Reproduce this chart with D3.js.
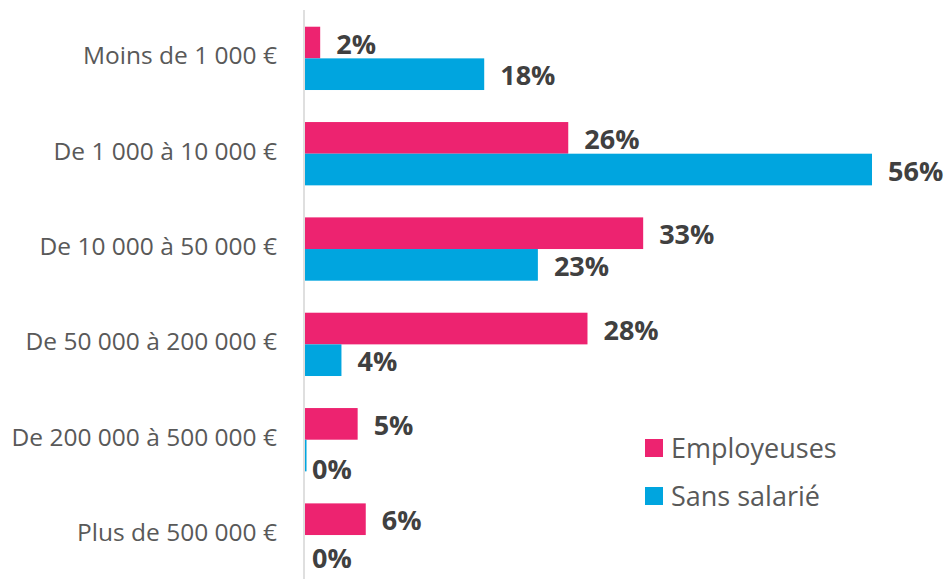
<!DOCTYPE html>
<html>
<head>
<meta charset="utf-8">
<script src="https://cdn.jsdelivr.net/npm/d3@7"></script>
<style>
  body { margin: 0; background: #fff; }
  text { font-family: "Open Sans", "Noto Sans", sans-serif; }
</style>
</head>
<body>
<div id="chart-area"></div>
<script>

var width = 947,
	height = 579;

// data
var categories = ["Moins de 1 000 €", "De 1 000 à 10 000 €", "De 10 000 à 50 000 €",
	"De 50 000 à 200 000 €", "De 200 000 à 500 000 €", "Plus de 500 000 €"];
var seriesNames = ["Employeuses", "Sans salarié"];
var employeuses = [1.5, 26, 33.4, 27.9, 5.2, 6.0];
var sansSalarie = [17.7, 56, 23, 3.6, 0.15, 0];
var colors = ["#ED2370", "#00A5DF"];

var svg = d3.select("#chart-area").append("svg")
	.attr("width", width)
	.attr("height", height);

var yScale = d3.scaleBand()
	.domain(categories)
	.range([10.7, 582.7])
	.paddingInner(0.336)
	.paddingOuter(0.168);

var ySub = d3.scaleBand()
	.domain(seriesNames)
	.range([0, yScale.bandwidth()]);

var xScale = d3.scaleLinear()
	.domain([0, 56])
	.range([305, 872]);

var rows = [];
categories.forEach(function(c, i){
	rows.push({cat: c, series: seriesNames[0], value: employeuses[i], color: colors[0]});
	rows.push({cat: c, series: seriesNames[1], value: sansSalarie[i], color: colors[1]});
});

svg.selectAll("rect.bar")
	.data(rows)
	.enter()
	.append("rect")
	.attr("class", "bar")
	.attr("x", xScale(0))
	.attr("y", function(d){ return yScale(d.cat) + ySub(d.series); })
	.attr("width", function(d){ return xScale(d.value) - xScale(0); })
	.attr("height", ySub.bandwidth())
	.attr("fill", function(d){ return d.color; });

// value labels (labels of empty bars sit a little lower, next to the axis)
svg.selectAll("text.value")
	.data(rows)
	.enter()
	.append("text")
	.attr("class", "value")
	.attr("x", function(d){
		if (Math.round(d.value) == 0) return xScale(0) + 7;
		return xScale(d.value) + 16;
	})
	.attr("y", function(d){
		var c = yScale(d.cat) + ySub(d.series) + ySub.bandwidth()/2 + 1.5;
		if (Math.round(d.value) == 0) return Math.min(c + 12, height - 21);
		return c;
	})
	.attr("dy", "0.36em")
	.attr("font-size", "27px")
	.attr("font-weight", "bold")
	.attr("fill", "#404040")
	.text(function(d){ return Math.round(d.value) + "%"; });

// category axis
svg.append("line")
	.attr("x1", 304).attr("x2", 304)
	.attr("y1", 10).attr("y2", height)
	.attr("stroke", "#d4d4d4")
	.attr("stroke-width", 1.5);

svg.selectAll("text.cat")
	.data(categories)
	.enter()
	.append("text")
	.attr("class", "cat")
	.attr("x", 277)
	.attr("y", function(d){ return yScale(d) + yScale.bandwidth()/2; })
	.attr("dy", "0.25em")
	.attr("text-anchor", "end")
	.attr("font-size", "24.5px")
	.attr("fill", "#595959")
	.text(function(d){ return d; });

// legend
var legend = svg.selectAll("g.legend")
	.data(seriesNames)
	.enter()
	.append("g")
	.attr("class", "legend")
	.attr("transform", function(d, i){ return "translate(645," + (448 + i*48) + ")"; });

legend.append("rect")
	.attr("x", 0).attr("y", -9)
	.attr("width", 18).attr("height", 18)
	.attr("fill", function(d, i){ return colors[i]; });

legend.append("text")
	.attr("x", 26)
	.attr("y", 0)
	.attr("dy", "0.36em")
	.attr("font-size", "27px")
	.attr("fill", "#595959")
	.text(function(d){ return d; });

</script>
</body>
</html>
